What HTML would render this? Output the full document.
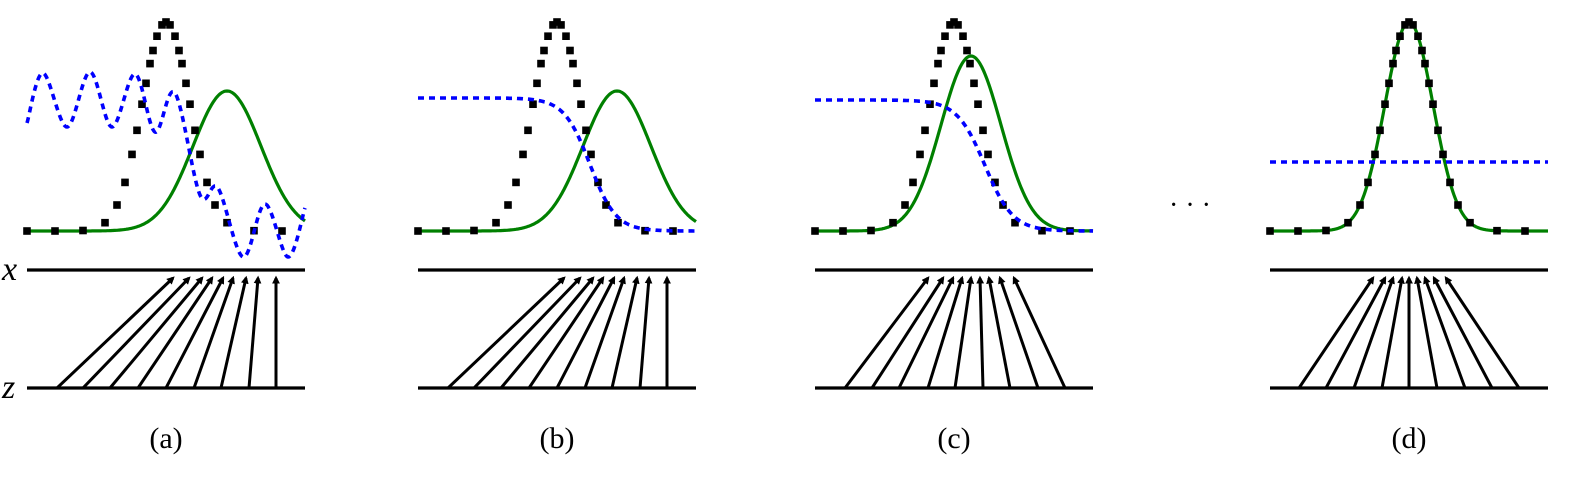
<!DOCTYPE html>
<html><head><meta charset="utf-8"><style>
body{margin:0;background:#fff}
svg{display:block}
</style></head><body>
<svg id="fig" width="1580" height="488" viewBox="0 0 1580 488">
<defs><marker id="ah" viewBox="0 0 10 10" refX="7" refY="5" markerWidth="2.6" markerHeight="2.6" orient="auto"><path d="M0,0 L10,5 L0,10 z" fill="#000"/></marker></defs>
<text x="2" y="280" font-size="34" font-style="italic" font-family="Liberation Serif, serif">x</text>
<text x="2" y="398" font-size="34" font-style="italic" font-family="Liberation Serif, serif">z</text>
<text x="1190" y="214" font-size="28" text-anchor="middle" font-family="Liberation Serif, serif">· · ·</text>
</svg>
<script>
const panelNames=['a','b','c','d'];
const panelX=[27,418,815,1270];
const panelW=278;
const baseY=231, xLineY=270, zLineY=388, tipY=278;
const dataMean=[139,139,139,139];
const dataSigma=[24,24,24,24];
const dataHeight=[209,209,209,209];
const dataDotOffsets=[-139,-111,-83,-61,-49,-41,-34,-29,-24,-20,-16,-13,-9,-4,0,4,9,13,16,20,24,29,34,41,49,61,88,116];
const genMean=[200,199,156,139];
const genSigma=[34,34,30,24];
const genHeight=[140,140,175,209];
const discHigh=[null,98,100,162];
const discLow=[null,231,231,162];
const discCenter=[null,172,170,139];
const discScale=[null,13,14,1];
const discAX=[0,16,40,63,85,108,128,148,173,191,216,238,261,278];
const discAY=[123,73,127,72,127,74,132,93,195,188,257,204,257,208];
const zPos=[[30,56,83,111,139,167,194,222,249],[30,56,83,111,139,167,194,222,249],[30,57,84,113,140,168,195,223,250],[29,56,84,112,139,167,195,222,249]];
const xPos=[[146,162,175,185,196,206,219,231,249],[146,162,175,185,196,206,219,231,249],[113,128,138,147,156,165,174,185,199],[103,115,123,132,139,147,155,164,176]];

const svg=document.getElementById('fig');
const NS='http://www.w3.org/2000/svg';
function mk(t,a){const e=document.createElementNS(NS,t);for(const k in a)e.setAttribute(k,a[k]);svg.appendChild(e);return e;}
function gauss(x,m,s,h){return baseY-h*Math.exp(-(x-m)*(x-m)/(2*s*s));}
function gaussPath(p,m,s,h){let d='';for(let x=0;x<=panelW;x+=1){d+=(x?'L':'M')+(panelX[p]+x).toFixed(1)+','+gauss(x,m,s,h).toFixed(1);}return d;}
function catmull(xs,ys,ox){let d='M'+(ox+xs[0])+','+ys[0];for(let i=0;i<xs.length-1;i++){const x0=xs[Math.max(i-1,0)],y0=ys[Math.max(i-1,0)],x1=xs[i],y1=ys[i],x2=xs[i+1],y2=ys[i+1],x3=xs[Math.min(i+2,xs.length-1)],y3=ys[Math.min(i+2,xs.length-1)];d+='C'+(ox+x1+(x2-x0)/6)+','+(y1+(y2-y0)/6)+' '+(ox+x2-(x3-x1)/6)+','+(y2-(y3-y1)/6)+' '+(ox+x2)+','+y2;}return d;}

for(let p=0;p<4;p++){
  const ox=panelX[p];
  let l=mk('line',{x1:ox,y1:xLineY,x2:ox+panelW,y2:xLineY,stroke:'#000','stroke-width':3.2});
  
  
  l=mk('line',{x1:ox,y1:zLineY,x2:ox+panelW,y2:zLineY,stroke:'#000','stroke-width':3.2});
  
  
  for(let i=0;i<zPos[p].length;i++){
    const a=mk('line',{x1:ox+zPos[p][i],y1:zLineY,x2:ox+xPos[p][i],y2:tipY,stroke:'#000','stroke-width':3,'marker-end':'url(#ah)'});
    
    
  }
  let g=mk('path',{d:gaussPath(p,genMean[p],genSigma[p],genHeight[p]),fill:'none',stroke:'#008000','stroke-width':3.2});
  
  
  const m=dataMean[p],s=dataSigma[p],h=dataHeight[p];
  for(const off of dataDotOffsets){
    const x=m+off,y=gauss(x,m,s,h);
    const r=mk('rect',{x:(ox+x-3.8).toFixed(1),y:(y-3.8).toFixed(1),width:7.6,height:7.6,fill:'#000'});
    
    
  }
  let bd;
  if(p===0){bd=catmull(discAX,discAY,ox);}
  else{bd='';for(let x=0;x<=panelW;x++){const y=discLow[p]+(discHigh[p]-discLow[p])/(1+Math.exp((x-discCenter[p])/discScale[p]));bd+=(x?'L':'M')+(ox+x)+','+y.toFixed(1);}}
  const b=mk('path',{d:bd,fill:'none',stroke:'#0000ff','stroke-width':3.6,'stroke-dasharray':'6 5'});
  
  
  const t=mk('text',{x:ox+139,y:448,'font-size':30,'text-anchor':'middle','font-family':'Liberation Serif, serif'});
  t.textContent='('+panelNames[p]+')';
  
  
}
</script>
</body></html>
